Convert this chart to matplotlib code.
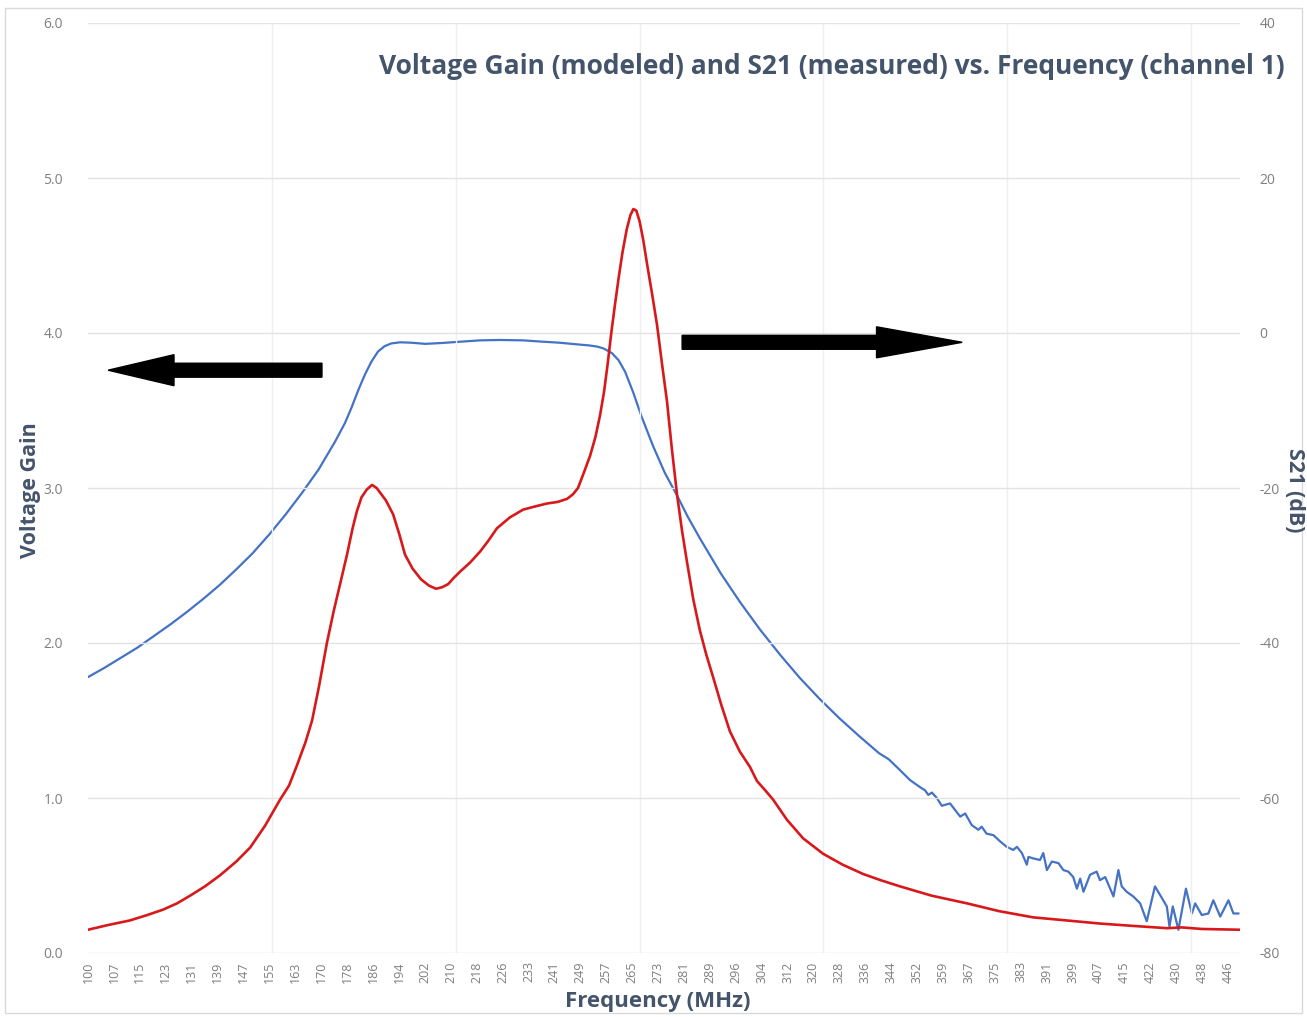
import numpy as np
import matplotlib
matplotlib.use('Agg')
import matplotlib.pyplot as plt
from matplotlib.patches import FancyArrow, Rectangle

#
# Data
#

# Voltage gain (modeled), left axis
gain_freq = [100, 106, 112.7, 118, 122.8, 127, 131, 135.5, 140, 145, 149.2, 153.7, 158.3,
             161, 163.4, 166, 168, 170.1, 172.5, 174.5, 176.5, 178.6, 180.3, 181.6, 183,
             184.6, 186.2, 187.6, 189, 190.4, 192.6, 194.5, 196.2, 198.5, 201.1, 203.5,
             205.6, 207.5, 209.3, 211, 212.9, 216, 219, 221.5, 224.1, 228, 232, 235.5,
             239.3, 242.5, 245.4, 247.2, 248.7, 250.5, 252.4, 254, 255.4, 256.6, 257.7,
             258.8, 259.9, 261, 262.2, 263.5, 264.6, 265.5, 266.4, 267.4, 268.5, 269.7,
             271.2, 272.7, 274.2, 275.7, 277.2, 278.8, 280.3, 281.8, 283.7, 285.7, 287.7,
             289.7, 292.2, 294.8, 297.8, 300.9, 303, 305.5, 307.9, 312.1, 317, 323.1, 329,
             335.2, 340.5, 346.4, 356, 366.8, 376.5, 386.8, 397, 407.1, 417, 427.5, 432,
             438, 449.6]
gain_vals = [0.15, 0.18, 0.21, 0.245, 0.28, 0.32, 0.37, 0.43, 0.50, 0.59, 0.68, 0.82, 0.99,
             1.08, 1.21, 1.36, 1.50, 1.72, 2.0, 2.2, 2.38, 2.57, 2.74, 2.85, 2.94,
             2.99, 3.02, 3.0, 2.96, 2.92, 2.83, 2.7, 2.57, 2.48, 2.41, 2.37,
             2.35, 2.36, 2.38, 2.42, 2.46, 2.52, 2.59, 2.66, 2.74, 2.81, 2.86, 2.88,
             2.90, 2.91, 2.93, 2.96, 3.0, 3.1, 3.21, 3.33, 3.47, 3.62, 3.8,
             4.0, 4.18, 4.35, 4.52, 4.67, 4.76, 4.8, 4.79, 4.72, 4.6, 4.44,
             4.25, 4.05, 3.8, 3.56, 3.25, 2.95, 2.72, 2.52, 2.28, 2.08, 1.92,
             1.78, 1.6, 1.43, 1.3, 1.2, 1.11, 1.05, 0.99, 0.86, 0.74, 0.64, 0.57,
             0.51, 0.47, 0.43, 0.37, 0.32, 0.27, 0.23, 0.21, 0.19, 0.175, 0.16, 0.165,
             0.155, 0.15]

# S21 (measured), right axis in dB
s21_freq = [100, 105, 110, 115, 120, 125, 130, 135, 140, 145, 150, 155, 160, 165, 170,
            175, 178, 180, 182, 184, 186, 188, 190, 192, 194.7, 198, 202.3, 207, 213.8,
            219, 225, 232, 237.2, 243, 248, 252, 254.5, 256.5, 259, 261, 263, 265.4,
            268, 271.5, 275, 278.8, 282, 285.7, 292, 298, 304, 310, 316, 322, 328, 334,
            340, 343,
            346.4, 349.5, 352.5, 354.0, 355.0, 356.1, 357.6, 359.1, 361.6, 364.7, 366.2,
            368.2, 370.2, 371.2, 372.7, 374.8, 376.8, 378.8, 380.8, 381.9, 383.4, 384.9,
            385.4, 386.9, 388.9, 389.9, 391.0, 392.5, 394.5, 396.0, 397.5, 399.0, 400.1,
            401.1, 402.1, 404.1, 406.1, 407.1, 408.7, 409.7, 411.2, 412.7, 413.7, 415.2,
            417.2, 419.3, 421.3, 423.8, 426.3, 427.4, 428.2, 429.2, 430.9, 433.2, 435.0,
            436.0, 438.0, 440.0, 441.5, 443.6, 446.1, 447.6, 449.1]
s21_db = [-44.4, -43.2, -41.9, -40.6, -39.1, -37.6, -36.0, -34.3, -32.5, -30.5, -28.4,
          -26.0, -23.4, -20.6, -17.6, -14.0, -11.6, -9.6, -7.4, -5.4, -3.7, -2.4, -1.7,
          -1.35, -1.2, -1.25, -1.4, -1.3, -1.1, -0.95, -0.9, -0.95, -1.1, -1.25, -1.45,
          -1.6, -1.75, -2.0, -2.6, -3.5, -5.0, -7.6, -10.8, -14.6, -18.0, -21.0, -23.7,
          -26.5, -31.0, -34.8, -38.3, -41.5, -44.5, -47.2, -49.7, -52.0, -54.2, -55.0,
          -56.4, -57.7, -58.6, -59.0, -59.6, -59.3, -60.0, -61.0, -60.7, -62.4, -62.0,
          -63.5, -64.1, -63.7, -64.6, -64.8, -65.6, -66.3, -66.7, -66.3, -67.1, -68.6,
          -67.6, -67.8, -68.0, -67.1, -69.3, -68.2, -68.4, -69.3, -69.5, -70.2, -71.7,
          -70.4, -72.1, -69.9, -69.5, -70.6, -70.2, -71.2, -72.7, -69.3, -71.4, -72.1,
          -72.7, -73.6, -75.9, -71.4, -73.2, -74.0, -76.6, -74.0, -77.0, -71.7, -74.9,
          -73.6, -75.1, -74.9, -73.2, -75.3, -73.2, -74.9, -74.9]

freq_labels = ['100', '107', '115', '123', '131', '139', '147', '155', '163', '170',
               '178', '186', '194', '202', '210', '218', '226', '233', '241', '249',
               '257', '265', '273', '281', '289', '296', '304', '312', '320', '328',
               '336', '344', '352', '359', '367', '375', '383', '391', '399', '407',
               '415', '422', '430', '438', '446']
gain_ticks = [0, 1, 2, 3, 4, 5, 6]
db_ticks = [-80, -60, -40, -20, 0, 20, 40]

title_text = 'Voltage Gain (modeled) and S21 (measured) vs. Frequency (channel 1)'

#
# Plot
#

text_col = '#44546a'
tick_col = '#7f7f7f'
grid_col = '#e3e3e3'

plt.rcParams['font.family'] = ['Open Sans', 'DejaVu Sans']

fig = plt.figure(figsize=(13.07, 10.17), dpi=100)
ax = fig.add_axes([88 / 1307, 64 / 1017, 1152 / 1307, 930 / 1017])
ax2 = ax.twinx()

ax.set_xlim(100, 449.6)
ax.set_ylim(0, 6)
ax2.set_ylim(-80, 40)

# category-like frequency ticks
tick_pos = [100 + i * 7.863 for i in range(len(freq_labels))]
ax.set_xticks(tick_pos)
ax.set_xticklabels(freq_labels, rotation=90, fontsize=9, color=tick_col)
ax.set_xticks([100 + k * 55.8 for k in range(7)], minor=True)

ax.set_yticks(gain_ticks)
ax.set_yticklabels(['%.1f' % v for v in gain_ticks], fontsize=10, color=tick_col)
ax2.set_yticks(db_ticks)
ax2.set_yticklabels([str(v) for v in db_ticks], fontsize=10, color=tick_col)

ax.tick_params(axis='both', which='both', length=0)
ax.tick_params(axis='y', pad=18)
ax.tick_params(axis='x', pad=6)
ax2.tick_params(axis='y', length=0, pad=14)

ax.grid(True, axis='y', color=grid_col, linewidth=1)
ax.grid(True, axis='x', which='minor', color='#efefef', linewidth=1)
for a in (ax, ax2):
    for s in a.spines.values():
        s.set_visible(False)
ax.set_axisbelow(True)

ax2.plot(s21_freq, s21_db, color='#4472c4', linewidth=1.6, zorder=3)
ax.plot(gain_freq, gain_vals, color='#d7191c', linewidth=1.9, zorder=4)
ax.set_zorder(ax2.get_zorder() + 1)
ax.patch.set_visible(False)

# the two direction arrows
ax.add_patch(FancyArrow(171.0, 3.76, -64.9, 0, width=0.09, head_width=0.2,
                        head_length=20, length_includes_head=True,
                        color='black', zorder=5))
ax.add_patch(FancyArrow(280.3, 3.94, 85.0, 0, width=0.09, head_width=0.2,
                        head_length=26, length_includes_head=True,
                        color='black', zorder=5))

fig.text(0.983, 0.935, title_text, ha='right', va='center', fontsize=19,
         fontweight='bold', color=text_col)
fig.text(0.023, 0.518, 'Voltage Gain', rotation=90, ha='center', va='center',
         fontsize=15.5, fontweight='bold', color=text_col)
fig.text(0.9905, 0.518, 'S21 (dB)', rotation=-90, ha='center', va='center',
         fontsize=15.5, fontweight='bold', color=text_col)
fig.text(0.503, 0.015, 'Frequency (MHz)', ha='center', va='center',
         fontsize=16, fontweight='bold', color=text_col)

# light chart border
fig.add_artist(Rectangle((0.004, 0.004), 0.992, 0.988, transform=fig.transFigure,
                         fill=False, edgecolor='#d9d9d9', linewidth=1))

plt.savefig('out.png', dpi=100)
